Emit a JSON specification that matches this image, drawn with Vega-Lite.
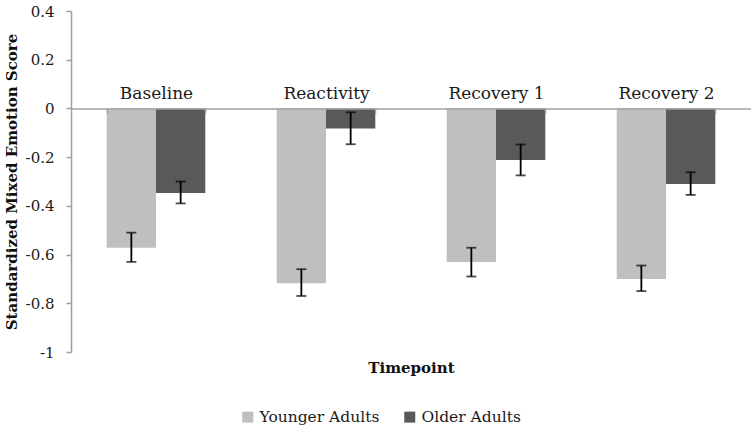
{
  "$schema": "https://vega.github.io/schema/vega-lite/v6.json",
  "autosize": {"type": "none"},
  "width": 680,
  "height": 341,
  "padding": {"left": 71, "top": 11, "right": 0, "bottom": 75},
  "background": "white",
  "config": {
    "view": {"stroke": null},
    "font": "DejaVu Serif",
    "axis": {"grid": false}
  },
  "data": {
    "values": [
      {"timepoint": "Baseline", "group": "Younger Adults", "mean": -0.572, "lo": -0.63, "hi": -0.51},
      {"timepoint": "Baseline", "group": "Older Adults", "mean": -0.347, "lo": -0.39, "hi": -0.30},
      {"timepoint": "Reactivity", "group": "Younger Adults", "mean": -0.718, "lo": -0.77, "hi": -0.66},
      {"timepoint": "Reactivity", "group": "Older Adults", "mean": -0.082, "lo": -0.147, "hi": -0.016},
      {"timepoint": "Recovery 1", "group": "Younger Adults", "mean": -0.63, "lo": -0.69, "hi": -0.572},
      {"timepoint": "Recovery 1", "group": "Older Adults", "mean": -0.212, "lo": -0.275, "hi": -0.148},
      {"timepoint": "Recovery 2", "group": "Younger Adults", "mean": -0.70, "lo": -0.75, "hi": -0.645},
      {"timepoint": "Recovery 2", "group": "Older Adults", "mean": -0.31, "lo": -0.355, "hi": -0.262}
    ]
  },
  "resolve": {"axis": {"x": "independent"}},
  "layer": [
    {
      "mark": {"type": "bar"},
      "encoding": {
        "x": {
          "field": "timepoint", "type": "nominal",
          "sort": ["Baseline", "Reactivity", "Recovery 1", "Recovery 2"],
          "scale": {"paddingInner": 0.42, "paddingOuter": 0.21},
          "axis": {
            "orient": "top", "offset": -97.4, "title": null,
            "labelAngle": 0, "labelFontSize": 17, "labelColor": "#1a1a1a",
            "labelPadding": 11,
            "domainColor": "#a0a0a0", "domainWidth": 1.5,
            "tickBand": "extent", "tickSize": -5, "tickColor": "#a0a0a0", "tickWidth": 1.5,
            "zindex": 1
          }
        },
        "xOffset": {"field": "group", "type": "nominal", "sort": ["Younger Adults", "Older Adults"], "scale": {"paddingInner": 0, "paddingOuter": 0}},
        "y": {
          "field": "mean", "type": "quantitative",
          "scale": {"domain": [-1, 0.4], "nice": false, "zero": false},
          "axis": {
            "title": "Standardized Mixed Emotion Score",
            "titleFontSize": 15, "titleFontWeight": "bold", "titleColor": "#111",
            "titlePadding": 6,
            "values": [0.4, 0.2, 0, -0.2, -0.4, -0.6, -0.8, -1],
            "labelExpr": "replace(format(datum.value, '.1~f'), '\u2212', '-')",
            "labelFontSize": 15, "labelColor": "#1a1a1a", "labelPadding": 12,
            "domainColor": "#a0a0a0", "domainWidth": 1.5,
            "tickColor": "#a0a0a0", "tickSize": 5, "tickWidth": 1.5
          }
        },
        "color": {
          "field": "group", "type": "nominal",
          "scale": {"domain": ["Younger Adults", "Older Adults"], "range": ["#bfbfbf", "#595959"]},
          "legend": {
            "orient": "none", "legendX": 169, "legendY": 398,
            "direction": "horizontal", "title": null,
            "symbolType": "square", "symbolSize": 121, "symbolStrokeWidth": 0,
            "labelFontSize": 15.5, "labelColor": "#1a1a1a", "columnPadding": 22, "labelOffset": 4
          }
        }
      }
    },
    {
      "mark": {"type": "rule", "color": "#000", "strokeWidth": 1.8},
      "encoding": {
        "x": {
          "field": "timepoint", "type": "nominal",
          "sort": ["Baseline", "Reactivity", "Recovery 1", "Recovery 2"],
          "axis": {
            "orient": "bottom", "title": "Timepoint", "titleFontSize": 15, "titleFontWeight": "bold",
            "titleColor": "#111", "titlePadding": 8,
            "labels": false, "ticks": false, "domain": false
          }
        },
        "xOffset": {"field": "group", "type": "nominal", "sort": ["Younger Adults", "Older Adults"]},
        "y": {"field": "lo", "type": "quantitative"},
        "y2": {"field": "hi"}
      }
    },
    {
      "mark": {"type": "tick", "color": "#000", "thickness": 1.8, "size": 10},
      "encoding": {
        "x": {"field": "timepoint", "type": "nominal", "sort": ["Baseline", "Reactivity", "Recovery 1", "Recovery 2"], "axis": null},
        "xOffset": {"field": "group", "type": "nominal", "sort": ["Younger Adults", "Older Adults"]},
        "y": {"field": "lo", "type": "quantitative"}
      }
    },
    {
      "mark": {"type": "tick", "color": "#000", "thickness": 1.8, "size": 10},
      "encoding": {
        "x": {"field": "timepoint", "type": "nominal", "sort": ["Baseline", "Reactivity", "Recovery 1", "Recovery 2"], "axis": null},
        "xOffset": {"field": "group", "type": "nominal", "sort": ["Younger Adults", "Older Adults"]},
        "y": {"field": "hi", "type": "quantitative"}
      }
    }
  ]
}
